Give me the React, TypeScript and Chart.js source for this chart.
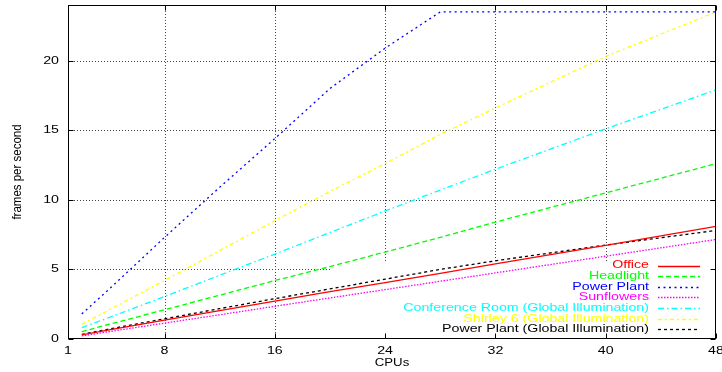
import React, { useEffect, useRef } from 'react';
import { Chart, registerables } from 'chart.js';

Chart.register(...registerables);

// ---- data ----
const cpus = [2, 4, 8, 12, 16, 20, 24, 28, 32, 40, 48];
const office = [0.3, 0.66, 1.36, 2.04, 2.72, 3.4, 4.05, 4.72, 5.4, 6.72, 8.1];
const headlight = [0.53, 1.06, 2.1, 3.15, 4.2, 5.2, 6.25, 7.3, 8.4, 10.5, 12.6];
const powerPlant = [1.8, 3.6, 7.3, 10.9, 14.4, 18.0, 20.9, 23.5, 23.5, 23.5, 23.5];
const sunflowers = [0.22, 0.53, 1.14, 1.74, 2.35, 2.95, 3.55, 4.15, 4.75, 5.95, 7.15];
const conference = [0.82, 1.55, 3.05, 4.58, 6.1, 7.65, 9.2, 10.7, 12.2, 15.1, 17.9];
const shirley = [1.06, 2.1, 4.2, 6.35, 8.5, 10.6, 12.6, 14.7, 16.6, 20.3, 23.5];
const ppgi = [0.33, 0.72, 1.45, 2.18, 2.9, 3.6, 4.3, 5.0, 5.62, 6.75, 7.8];

const seriesNames = [
  'Office',
  'Headlight',
  'Power Plant',
  'Sunflowers',
  'Conference Room (Global Illumination)',
  'Shirley 6 (Global Illumination)',
  'Power Plant (Global Illumination)',
];
const seriesValues = [office, headlight, powerPlant, sunflowers, conference, shirley, ppgi];
const seriesColors = ['#ff0000', '#00ff00', '#0000ff', '#ff00ff', '#00ffff', '#ffff00', '#000000'];
const seriesDashes: number[][] = [[], [5, 3], [2, 3.5], [1.5, 1.5], [6, 3, 1.5, 3], [4, 3, 2, 3], [3, 3]];

const xTicks = [1, 8, 16, 24, 32, 40, 48];
const yTicks = [0, 5, 10, 15, 20];
const xTitle = 'CPUs';
const yTitle = 'frames per second';

const FONT = '"Liberation Sans", Arial, sans-serif';
const SX = 1.33;

function stretchedText(
  ctx: CanvasRenderingContext2D,
  text: string,
  x: number,
  y: number,
  align: CanvasTextAlign,
  size: number,
  color: string,
  sx: number
) {
  ctx.save();
  ctx.translate(x, y);
  ctx.scale(sx, 1);
  ctx.font = `${size}px ${FONT}`;
  ctx.fillStyle = color;
  ctx.textAlign = align;
  ctx.textBaseline = 'middle';
  ctx.fillText(text, 0, 0);
  ctx.restore();
}

function seg(ctx: CanvasRenderingContext2D, x1: number, y1: number, x2: number, y2: number) {
  ctx.beginPath();
  ctx.moveTo(x1, y1);
  ctx.lineTo(x2, y2);
  ctx.stroke();
}

const gnuplotPlugin = {
  id: 'gnuplotLook',
  beforeDatasetsDraw(chart: any) {
    const { ctx, chartArea: a, scales } = chart;
    const xs = scales.x;
    const ys = scales.y;
    ctx.save();
    ctx.strokeStyle = '#444';
    ctx.lineWidth = 1;
    ctx.setLineDash([1, 2]);
    for (const v of xTicks) {
      if (v === xTicks[0] || v === xTicks[xTicks.length - 1]) continue;
      const px = Math.round(xs.getPixelForValue(v)) + 0.5;
      seg(ctx, px, a.top, px, a.bottom);
    }
    for (const v of yTicks) {
      if (v === 0) continue;
      const py = Math.round(ys.getPixelForValue(v)) + 0.5;
      seg(ctx, a.left, py, a.right, py);
    }
    ctx.setLineDash([]);
    // opaque key box
    ctx.fillStyle = '#ffffff';
    const boxLeft = a.right - 385;
    const boxTop = a.bottom - 77;
    ctx.fillRect(boxLeft, boxTop, a.right - boxLeft, a.bottom - boxTop);
    ctx.restore();
  },
  afterDatasetsDraw(chart: any) {
    const { ctx, chartArea: a, scales } = chart;
    const xs = scales.x;
    const ys = scales.y;
    ctx.save();
    ctx.strokeStyle = '#000';
    ctx.lineWidth = 1;
    ctx.setLineDash([]);
    const L = Math.round(a.left) + 0.5;
    const R = Math.round(a.right) - 0.5;
    const T = Math.round(a.top) + 0.5;
    const B = Math.round(a.bottom) - 0.5;
    ctx.strokeRect(L, T, R - L, B - T);
    // inward ticks
    for (const v of xTicks) {
      const px = Math.round(xs.getPixelForValue(v)) + 0.5;
      seg(ctx, px, B, px, B - 5);
      seg(ctx, px, T, px, T + 5);
    }
    for (const v of yTicks) {
      const py = Math.round(ys.getPixelForValue(v)) + 0.5;
      seg(ctx, L, py, L + 5, py);
      seg(ctx, R, py, R - 5, py);
    }
    // tick labels
    for (const v of yTicks) {
      stretchedText(ctx, String(v), a.left - 9, ys.getPixelForValue(v), 'right', 10.7, '#000', SX);
    }
    for (const v of xTicks) {
      stretchedText(ctx, String(v), xs.getPixelForValue(v), a.bottom + 12, 'center', 10.7, '#000', SX);
    }
    // axis titles
    stretchedText(ctx, xTitle, (a.left + a.right) / 2, a.bottom + 24, 'center', 11, '#000', 1.2);
    ctx.save();
    ctx.translate(17, (a.top + a.bottom) / 2);
    ctx.rotate(-Math.PI / 2);
    ctx.scale(1, 1.15);
    ctx.font = `11.5px ${FONT}`;
    ctx.fillStyle = '#000';
    ctx.textAlign = 'center';
    ctx.textBaseline = 'middle';
    ctx.fillText(yTitle, 0, 0);
    ctx.restore();
    // key
    const textRight = a.right - 67;
    const sampleL = a.right - 58;
    const sampleR = a.right - 16;
    const rowTop = a.bottom - 73.5;
    const step = 10.65;
    seriesNames.forEach((name, i) => {
      const yy = rowTop + i * step;
      stretchedText(ctx, name, textRight, yy, 'right', 10.7, seriesColors[i], SX);
      ctx.strokeStyle = seriesColors[i];
      ctx.lineWidth = 1.3;
      ctx.setLineDash(seriesDashes[i]);
      seg(ctx, sampleL, Math.round(yy) + 0.5, sampleR, Math.round(yy) + 0.5);
    });
    ctx.restore();
  },
};

export default function App() {
  const ref = useRef<HTMLCanvasElement | null>(null);
  useEffect(() => {
    document.body.style.margin = '0';
    const canvas = ref.current;
    if (!canvas) return;
    const chart = new Chart(canvas, {
      type: 'line',
      data: {
        datasets: seriesNames.map((name, i) => ({
          label: name,
          data: cpus.map((c, j) => ({ x: c, y: seriesValues[i][j] })),
          borderColor: seriesColors[i],
          backgroundColor: seriesColors[i],
          borderWidth: 1.3,
          borderDash: seriesDashes[i],
          fill: false,
          pointRadius: 0,
          tension: 0,
        })),
      },
      options: {
        animation: false,
        responsive: false,
        devicePixelRatio: 1,
        layout: { padding: { left: 0, right: 6, top: 5, bottom: 0 } },
        plugins: { legend: { display: false }, tooltip: { enabled: false } },
        scales: {
          x: {
            type: 'linear',
            min: 1,
            max: 48,
            grid: { display: false },
            border: { display: false },
            ticks: { display: false },
            afterBuildTicks: (s: any) => {
              s.ticks = xTicks.map((v) => ({ value: v }));
            },
            afterFit: (s: any) => {
              s.height = 33;
            },
          },
          y: {
            type: 'linear',
            min: 0,
            max: 24,
            grid: { display: false },
            border: { display: false },
            ticks: { display: false },
            afterBuildTicks: (s: any) => {
              s.ticks = yTicks.map((v) => ({ value: v }));
            },
            afterFit: (s: any) => {
              s.width = 68;
            },
          },
        },
      },
      plugins: [gnuplotPlugin],
    } as any);
    return () => chart.destroy();
  }, []);
  return (
    <div style={{ width: 722, height: 372 }}>
      <canvas ref={ref} width={722} height={372} style={{ display: 'block', width: 722, height: 372 }} />
    </div>
  );
}
